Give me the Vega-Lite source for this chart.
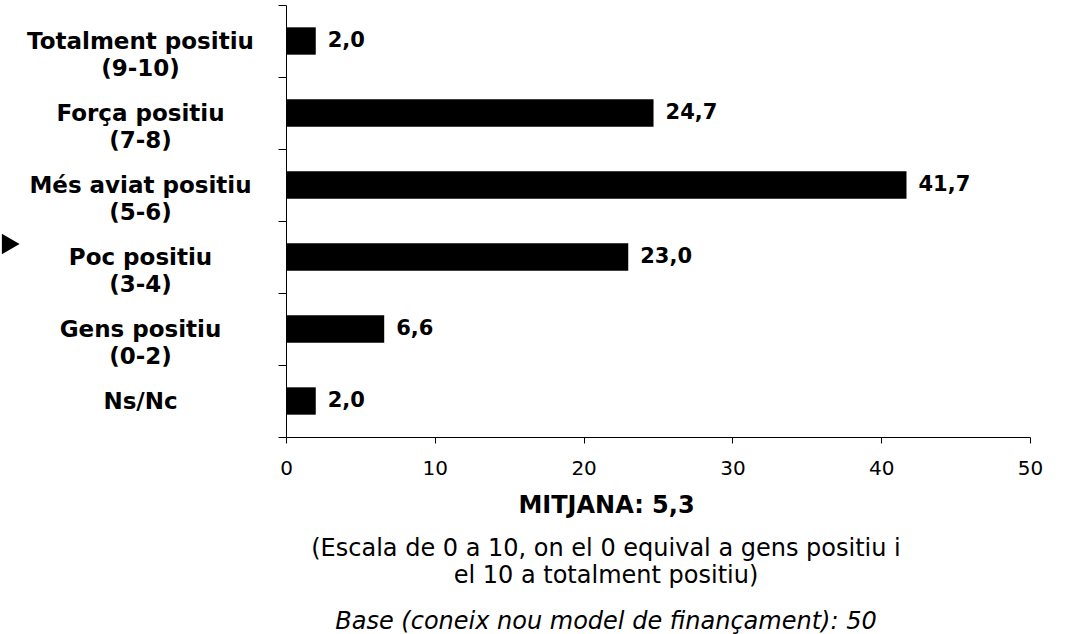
{
  "$schema": "https://vega.github.io/schema/vega-lite/v6.json",
  "autosize": "none",
  "width": 744,
  "height": 432,
  "padding": {"left": 286, "top": 5, "right": 36, "bottom": 197},
  "background": "white",
  "config": {
    "font": "DejaVu Sans",
    "view": {"stroke": null},
    "locale": {"number": {"decimal": ",", "thousands": ".", "grouping": [3], "currency": ["", " €"]}}
  },
  "title": {
    "text": ["(Escala de 0 a 10, on el 0 equival a gens positiu i", "el 10 a totalment positiu)"],
    "subtitle": "Base (coneix nou model de finançament): 50",
    "orient": "bottom",
    "anchor": "middle",
    "frame": "group",
    "dx": -52,
    "offset": 20,
    "font": "DejaVu Sans",
    "fontSize": 24,
    "fontWeight": "normal",
    "lineHeight": 27,
    "color": "#000",
    "subtitleFont": "DejaVu Sans",
    "subtitleFontSize": 24,
    "subtitleFontStyle": "italic",
    "subtitleColor": "#000",
    "subtitlePadding": 22
  },
  "data": {
    "values": [
      {"cat": "Totalment positiu|(9-10)", "value": 2.0},
      {"cat": "Força positiu|(7-8)", "value": 24.7},
      {"cat": "Més aviat positiu|(5-6)", "value": 41.7},
      {"cat": "Poc positiu|(3-4)", "value": 23.0},
      {"cat": "Gens positiu|(0-2)", "value": 6.6},
      {"cat": "Ns/Nc", "value": 2.0}
    ]
  },
  "encoding": {
    "y": {
      "field": "cat",
      "type": "nominal",
      "sort": null,
      "scale": {"paddingInner": 0, "paddingOuter": 0},
      "axis": {
        "title": null,
        "labelExpr": "split(datum.label, '|')",
        "labelAlign": "center",
        "labelBaseline": "middle",
        "labelPadding": 138,
        "labelFont": "DejaVu Sans",
        "labelFontSize": 23,
        "labelFontWeight": "bold",
        "labelLineHeight": 27,
        "labelColor": "#000",
        "labelLimit": 400,
        "tickBand": "extent",
        "tickSize": 8,
        "tickColor": "#000",
        "domainColor": "#000",
        "grid": false
      }
    }
  },
  "layer": [
    {
      "mark": {"type": "bar", "color": "#000", "height": {"band": 0.38}},
      "encoding": {
        "x": {
          "field": "value",
          "type": "quantitative",
          "scale": {"domain": [0, 50], "nice": false},
          "axis": {
            "values": [0, 10, 20, 30, 40, 50],
            "grid": false,
            "tickSize": 6,
            "tickColor": "#000",
            "domainColor": "#000",
            "labelFont": "DejaVu Sans",
            "labelFontSize": 20,
            "labelColor": "#000",
            "labelPadding": 15,
            "labelFlush": false,
            "title": "MITJANA: 5,3",
            "titleFont": "DejaVu Sans",
            "titleFontSize": 24,
            "titleFontWeight": "bold",
            "titleColor": "#000",
            "titleAnchor": "start",
            "titleAlign": "center",
            "titleBaseline": "middle",
            "titleX": 320,
            "titleY": 68
          }
        }
      }
    },
    {
      "mark": {"type": "text", "align": "left", "baseline": "middle", "dx": 12, "fontWeight": "bold", "fontSize": 21, "color": "#000"},
      "encoding": {
        "x": {"field": "value", "type": "quantitative"},
        "text": {"field": "value", "type": "quantitative", "format": ".1f"}
      }
    },
    {
      "data": {"values": [{"cat": "Poc positiu|(3-4)", "pos": -18.5}]},
      "mark": {"type": "point", "shape": "triangle-right", "filled": true, "color": "#000", "opacity": 1, "size": 420, "yOffset": -13},
      "encoding": {
        "x": {"field": "pos", "type": "quantitative"}
      }
    }
  ]
}
